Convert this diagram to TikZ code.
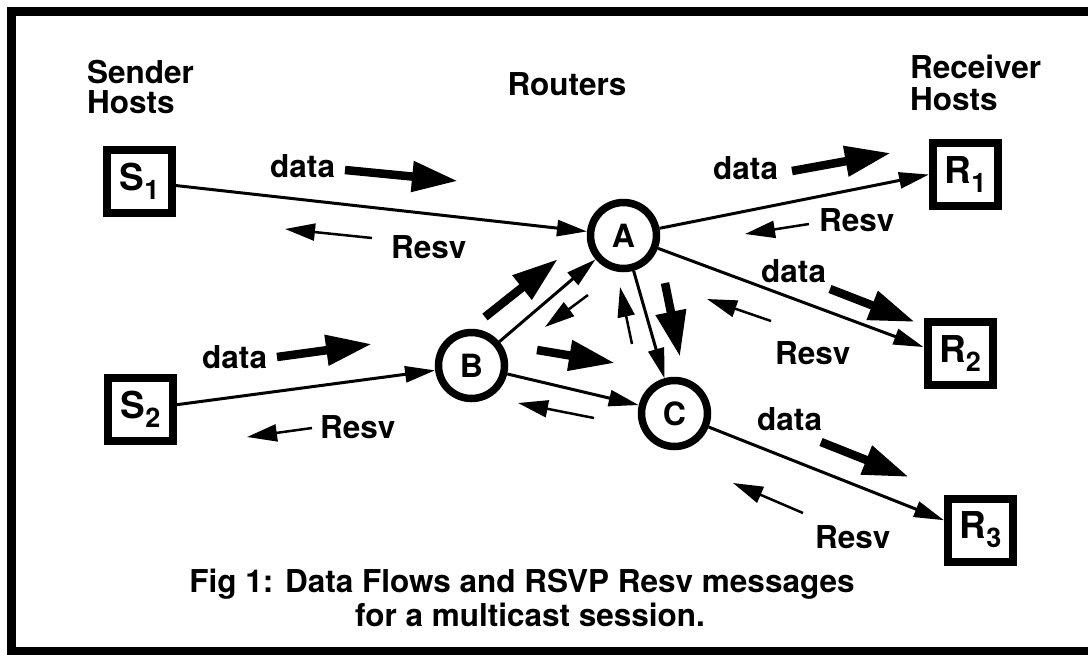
\documentclass[tikz,border=0pt]{standalone}
\usepackage{fontspec}
\setmainfont{TeX Gyre Heros}
\usetikzlibrary{arrows.meta}
\newcommand\hostlbl[2]{{\fontsize{37}{37}\selectfont #1\raisebox{-9pt}{\fontsize{27}{27}\selectfont #2}}}
\begin{document}
\begin{tikzpicture}[x=1pt,y=-1pt,
  lbl/.style={font=\bfseries\fontsize{31.5}{31.5}\selectfont, inner sep=0pt},
  host/.style={draw, line width=8pt, minimum width=65pt, minimum height=63pt, inner sep=0pt, outer sep=4pt, font=\bfseries},
  router/.style={draw, circle, line width=7.5pt, minimum size=66pt, inner sep=0pt, outer sep=3.75pt, font=\bfseries\fontsize{32}{32}\selectfont},
  link/.style={line width=3pt, -{Triangle[length=30pt,width=16pt]}},
  dataarrow/.style={line width=8.5pt, -{Triangle[length=46pt,width=29pt]}},
  resvarrow/.style={line width=2.5pt, -{Triangle[length=30pt,width=17pt]}},
]
\useasboundingbox (0,0) rectangle (1088,654);
\draw[line width=9pt] (1088,11) -- (11,11) -- (11,651) -- (1088,651);

% column headings
\node[lbl, anchor=base west] (senderlbl) at (87,83) {Sender};
\node[lbl, anchor=base west] (senderhosts) at (87,113) {Hosts};
\node[lbl, anchor=base] (routers) at (567,95) {Routers};
\node[lbl, anchor=base west] (receiverlbl) at (910,78) {Receiver};
\node[lbl, anchor=base west] (receiverhosts) at (910,110) {Hosts};

% hosts and routers
\node[host] (S1) at (139.5,181.5) {\hostlbl{S}{1}};
\node[host] (S2) at (140.5,409.5) {\hostlbl{S}{2}};
\node[host] (R1) at (965.5,174.5) {\hostlbl{R}{1}};
\node[host] (R2) at (960,353.5) {\hostlbl{R}{2}};
\node[host] (R3) at (980.5,530) {\hostlbl{R}{3}};
\node[router] (A) at (623.5,235.5) {A};
\node[router] (B) at (471.5,365.5) {B};
\node[router] (C) at (674.5,413.5) {C};

% links
\draw[link] (S1) -- (A);
\draw[link] (S2) -- (B);
\draw[link] (B) -- (A);
\draw[link] (B) -- (C);
\draw[link] (A) -- (C);
\draw[link] (A) -- (R1.west);
\draw[link] (A) -- (R2.170);
\draw[link] (C) -- (R3.165);

% data flow arrows
\coordinate (d1s) at (345,170); \coordinate (d1e) at (458,181);
\coordinate (d2s) at (792,171); \coordinate (d2e) at (891,153);
\coordinate (d3s) at (830,289); \coordinate (d3e) at (915,322);
\coordinate (d4s) at (821,442); \coordinate (d4e) at (909,477);
\coordinate (d5s) at (277,357); \coordinate (d5e) at (372,344);
\coordinate (d6s) at (485,317); \coordinate (d6e) at (558,259);
\coordinate (d7s) at (537,350); \coordinate (d7e) at (615,363);
\coordinate (d8s) at (665,283); \coordinate (d8e) at (680,357);
\foreach \i in {1,...,8} {\draw[dataarrow] (d\i s) -- (d\i e);}

% Resv arrows
\coordinate (r1s) at (372,238); \coordinate (r1e) at (285,229);
\coordinate (r2s) at (809,224); \coordinate (r2e) at (745,234);
\coordinate (r3s) at (771,321); \coordinate (r3e) at (707,299);
\coordinate (r4s) at (803,513); \coordinate (r4e) at (733,483);
\coordinate (r5s) at (312,428); \coordinate (r5e) at (247,437);
\coordinate (r6s) at (588,295); \coordinate (r6e) at (545,327);
\coordinate (r7s) at (594,418); \coordinate (r7e) at (518,403);
\coordinate (r8s) at (632,344); \coordinate (r8e) at (620,287);
\foreach \i in {1,...,8} {\draw[resvarrow] (r\i s) -- (r\i e);}

% labels
\node[lbl, anchor=base west] (data1) at (270,177) {data};
\node[lbl, anchor=base west] (data2) at (713,179) {data};
\node[lbl, anchor=base west] (data3) at (761,282) {data};
\node[lbl, anchor=base west] (data4) at (757,430) {data};
\node[lbl, anchor=base west] (data5) at (202,368) {data};
\node[lbl, anchor=base west] (resv1) at (391,258) {Resv};
\node[lbl, anchor=base west] (resv2) at (819,231) {Resv};
\node[lbl, anchor=base west] (resv3) at (775,364) {Resv};
\node[lbl, anchor=base west] (resv4) at (815,548) {Resv};
\node[lbl, anchor=base west] (resv5) at (320,438) {Resv};

% caption
\node[lbl, anchor=base] (cap1) at (522,592) {Fig 1: Data Flows and RSVP Resv messages};
\node[lbl, anchor=base] (cap2) at (530,626) {for a multicast session.};
\end{tikzpicture}
\end{document}
